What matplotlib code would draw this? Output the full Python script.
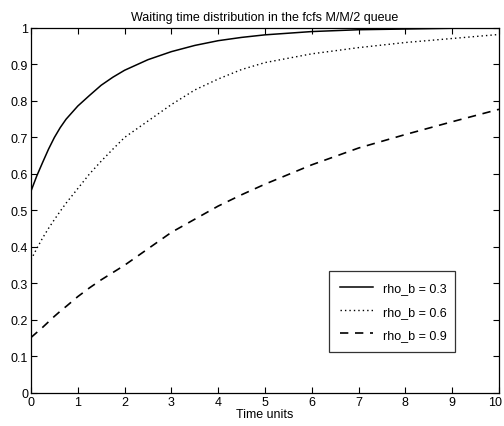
import matplotlib
matplotlib.use("Agg")
import matplotlib.pyplot as plt
import matplotlib.transforms as mtransforms

# values
time_units = [0, 0.125, 0.25, 0.375, 0.5, 0.625, 0.75, 1, 1.25, 1.5, 1.75, 2, 2.5, 3, 3.5,
              4, 4.5, 5, 6, 7, 8, 9, 10]
rho_03 = [0.553, 0.595, 0.632, 0.668, 0.700, 0.727, 0.750, 0.786, 0.815, 0.843, 0.865,
          0.884, 0.913, 0.935, 0.952, 0.965, 0.974, 0.981, 0.990, 0.995, 0.997, 0.999, 0.999]
rho_06 = [0.365, 0.396, 0.425, 0.451, 0.475, 0.498, 0.520, 0.560, 0.600, 0.635, 0.668,
          0.700, 0.745, 0.790, 0.830, 0.860, 0.886, 0.905, 0.929, 0.946, 0.960, 0.971, 0.982]
rho_09 = [0.152, 0.166, 0.180, 0.195, 0.210, 0.224, 0.237, 0.264, 0.288, 0.310, 0.330,
          0.350, 0.395, 0.440, 0.476, 0.512, 0.543, 0.572, 0.625, 0.671, 0.708, 0.743, 0.777]
labels = ["rho_b = 0.3", "rho_b = 0.6", "rho_b = 0.9"]

plt.rcParams['font.family'] = ['Liberation Sans', 'DejaVu Sans']

fig = plt.figure(figsize=(5.04, 4.27), dpi=100)
ax = fig.add_axes([0.0615, 0.0773, 0.9285, 0.855])

ax.plot(time_units, rho_03, color='black', linestyle='-', linewidth=1.1, label=labels[0])
ax.plot(time_units, rho_06, color='black', linestyle=(0, (1, 2.2)), linewidth=1.0, label=labels[1])
ax.plot(time_units, rho_09, color='black', linestyle=(0, (5, 4)), linewidth=1.2, label=labels[2])

ax.set_xlim(0, 10)
ax.set_ylim(0, 1)
ax.set_xticks(range(0, 11))
ax.set_yticks([i / 10 for i in range(0, 11)])
ax.set_yticklabels(["0", "0.1", "0.2", "0.3", "0.4", "0.5", "0.6", "0.7", "0.8", "0.9", "1"])
ax.tick_params(direction='in', top=True, right=True, length=4, labelsize=9, pad=2)
for s in ax.spines.values():
    s.set_linewidth(0.9)

# keep the "10" label inside the figure
last = ax.get_xticklabels()[-1]
last.set_transform(last.get_transform() +
                   mtransforms.ScaledTranslation(-4 / 100, 0, fig.dpi_scale_trans))

ax.set_title('Waiting time distribution in the fcfs M/M/2 queue', fontsize=9, pad=6)
ax.set_xlabel('Time units', fontsize=9, labelpad=0)

leg = ax.legend(loc='lower left', bbox_to_anchor=(0.637, 0.112, 0.269, 0.233), mode='expand',
                fontsize=9, frameon=True, fancybox=False, handlelength=2.6,
                borderaxespad=0, labelspacing=0.9, borderpad=0.9)
leg.get_frame().set_edgecolor('black')
leg.get_frame().set_linewidth(0.9)

plt.savefig('out.png', dpi=100)
